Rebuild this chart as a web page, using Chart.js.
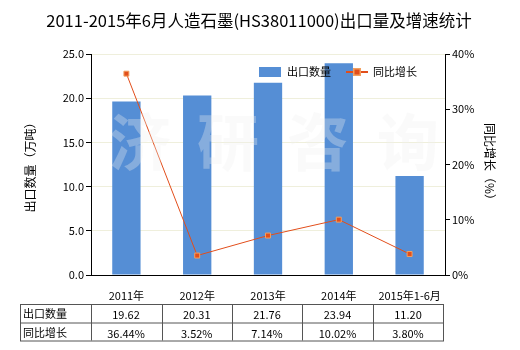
<!DOCTYPE html>
<html>
<head>
<meta charset="utf-8">
<script src="https://cdn.jsdelivr.net/npm/chart.js@4/dist/chart.umd.min.js"></script>
<style>
  body { margin: 0; background: #fff; }
  #chart { display: block; }
</style>
</head>
<body>
<canvas id="chart" width="520" height="350"></canvas>
<script>
// data
const categories = ['2011年', '2012年', '2013年', '2014年', '2015年1-6月'];
const exportQty = [19.62, 20.31, 21.76, 23.94, 11.20];
const growthPct = [36.44, 3.52, 7.14, 10.02, 3.80];
const qtyLabels = ['19.62', '20.31', '21.76', '23.94', '11.20'];
const growthLabels = ['36.44%', '3.52%', '7.14%', '10.02%', '3.80%'];

const FONT = '"Noto Sans CJK SC", "Noto Sans", sans-serif';
const BAR_COLOR = '#558ed5';
const LINE_COLOR = '#e24e1b';

// title, legend, axis titles, watermark and the data table
const extras = {
  id: 'extras',
  afterDatasetsDraw(chart) {
    const ctx = chart.ctx;
    ctx.save();
    ctx.fillStyle = 'rgba(238,238,238,0.32)';
    ctx.font = 'bold 62px ' + FONT;
    ctx.textAlign = 'center';
    ctx.textBaseline = 'middle';
    const marks = ['济', '研', '咨', '询'];
    const xs = [140, 228, 318, 408];
    marks.forEach((m, i) => ctx.fillText(m, xs[i], 142));
    ctx.restore();
  },
  afterDraw(chart) {
    const ctx = chart.ctx;
    const area = chart.chartArea;
    ctx.save();
    ctx.fillStyle = '#000';
    ctx.textBaseline = 'middle';

    // title
    ctx.font = '16.5px ' + FONT;
    ctx.textAlign = 'center';
    ctx.fillText('2011-2015年6月人造石墨(HS38011000)出口量及增速统计', 259, 21);

    // legend
    ctx.font = '11px ' + FONT;
    ctx.textAlign = 'left';
    ctx.fillStyle = BAR_COLOR;
    ctx.fillRect(259, 67, 22, 10);
    ctx.fillStyle = '#000';
    ctx.fillText('出口数量', 287, 72);
    ctx.strokeStyle = LINE_COLOR;
    ctx.lineWidth = 2;
    ctx.beginPath();
    ctx.moveTo(346, 72);
    ctx.lineTo(368, 72);
    ctx.stroke();
    ctx.fillStyle = '#f2a060';
    ctx.fillRect(353, 68, 8, 8);
    ctx.fillStyle = LINE_COLOR;
    ctx.fillRect(354.5, 69.5, 5, 5);
    ctx.fillStyle = '#000';
    ctx.fillText('同比增长', 373, 72);

    // axis titles
    const midY = (area.top + area.bottom) / 2;
    ctx.textAlign = 'center';
    ctx.font = '12px ' + FONT;
    ctx.save();
    ctx.translate(30, midY);
    ctx.rotate(-Math.PI / 2);
    ctx.fillText('出口数量（万吨）', 0, 0);
    ctx.restore();
    ctx.save();
    ctx.translate(490, midY);
    ctx.rotate(Math.PI / 2);
    ctx.fillText('同比增长（%）', 0, 0);
    ctx.restore();

    // data table
    const left = 20, right = 443, top = 304, mid = 322.5, bottom = 340.5;
    const colLines = [90.5, 161.5, 232, 302, 373];
    ctx.strokeStyle = '#555';
    ctx.lineWidth = 1;
    ctx.strokeRect(left + 0.5, top + 0.5, right - left, bottom - top);
    ctx.beginPath();
    ctx.moveTo(left, mid + 0.5);
    ctx.lineTo(right, mid + 0.5);
    colLines.forEach(x => {
      ctx.moveTo(Math.round(x) + 0.5, top);
      ctx.lineTo(Math.round(x) + 0.5, bottom);
    });
    ctx.stroke();

    ctx.font = '11px ' + FONT;
    ctx.fillStyle = '#000';
    ctx.textAlign = 'left';
    ctx.fillText('出口数量', 23, (top + mid) / 2 + 1);
    ctx.fillText('同比增长', 23, (mid + bottom) / 2 + 1);
    ctx.textAlign = 'center';
    const edges = colLines.concat([right]);
    for (let i = 0; i < categories.length; i++) {
      const cx = (edges[i] + edges[i + 1]) / 2;
      ctx.fillText(qtyLabels[i], cx, (top + mid) / 2 + 2);
      ctx.fillText(growthLabels[i], cx, (mid + bottom) / 2 + 2);
    }
    ctx.restore();
  }
};

new Chart(document.getElementById('chart'), {
  data: {
    labels: categories,
    datasets: [
      {
        type: 'line',
        label: '同比增长',
        data: growthPct,
        yAxisID: 'y1',
        borderColor: LINE_COLOR,
        borderWidth: 1,
        pointStyle: 'rect',
        pointRadius: 3.5,
        pointBackgroundColor: LINE_COLOR,
        pointBorderColor: '#f2a060',
        pointBorderWidth: 1,
        tension: 0,
        order: 0
      },
      {
        type: 'bar',
        label: '出口数量',
        data: exportQty,
        yAxisID: 'y',
        backgroundColor: BAR_COLOR,
        barPercentage: 0.4,
        categoryPercentage: 1,
        order: 1
      }
    ]
  },
  plugins: [extras],
  options: {
    responsive: false,
    animation: false,
    layout: { padding: { top: 54, left: 0, right: 0, bottom: 0 } },
    plugins: {
      legend: { display: false },
      title: { display: false },
      tooltip: { enabled: false }
    },
    scales: {
      x: {
        afterFit(scale) { scale.height = 75; },
        grid: { display: false, drawOnChartArea: false },
        border: { color: '#000' },
        ticks: { color: '#000', font: { family: FONT, size: 11 }, padding: 6, maxRotation: 0 }
      },
      y: {
        position: 'left',
        min: 0,
        max: 25,
        afterFit(scale) { scale.width = 91; },
        border: { color: '#000' },
        grid: { color: '#efefdc', tickColor: '#000', tickLength: 5 },
        ticks: {
          stepSize: 5,
          color: '#000',
          font: { family: FONT, size: 11 },
          padding: 2,
          callback: v => v.toFixed(1)
        }
      },
      y1: {
        position: 'right',
        min: 0,
        max: 40,
        afterFit(scale) { scale.width = 75; },
        border: { color: '#000' },
        grid: { drawOnChartArea: false, tickColor: '#000', tickLength: 5 },
        ticks: {
          stepSize: 10,
          color: '#000',
          font: { family: FONT, size: 11 },
          padding: 2,
          callback: v => v + '%'
        }
      }
    }
  }
});
</script>
</body>
</html>
